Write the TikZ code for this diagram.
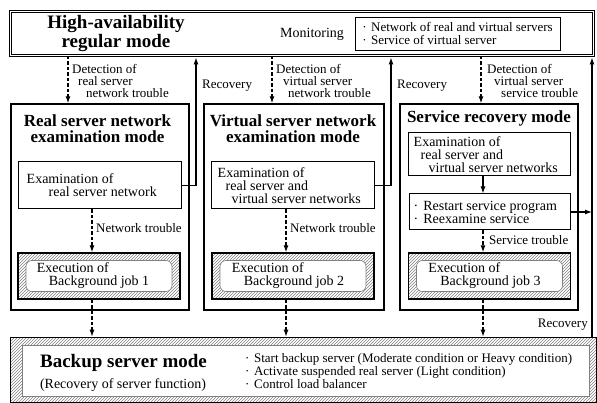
\documentclass[tikz,border=0pt]{standalone}
\usepackage{fontspec}
\setmainfont{Liberation Serif}
\usetikzlibrary{positioning,arrows.meta,patterns}

\newcommand{\bigtxt}{\fontsize{19}{19}\selectfont\bfseries}
\newcommand{\headtxt}{\fontsize{17}{16}\selectfont\bfseries}
\newcommand{\bodytxt}{\fontsize{14}{13}\selectfont}
\newcommand{\smalltxt}{\fontsize{13}{12}\selectfont}
\newcommand{\listtxt}{\fontsize{13}{13.2}\selectfont}
\newcommand{\bul}{\textperiodcentered\hspace{0.35em}}

\begin{document}
\begin{tikzpicture}[x=1pt,y=-1pt,
		modebox/.style={draw, line width=1.4pt, minimum height=206pt, inner sep=0pt},
		modetitle/.style={font=\headtxt, align=center, inner sep=0pt},
		exambox/.style={draw, line width=1pt, minimum width=163pt, inner sep=0pt},
		boxtext/.style={inner sep=0pt, align=left, font=\bodytxt},
		jobbox/.style={draw, line width=1.2pt, pattern=north east lines, pattern color=gray, minimum width=162pt, minimum height=46pt},
		jobframe/.style={draw=gray, line width=0.6pt, fill=white, rounded corners=6pt, minimum width=146pt, minimum height=31pt},
		lbl/.style={inner sep=0pt, font=\smalltxt, align=left},
		solidarrow/.style={line width=1.2pt, -{Latex[length=7pt,width=5pt]}},
		dasharrow/.style={solidarrow, dash pattern=on 3.5pt off 2pt}]
	\useasboundingbox (0,0) rectangle (597,403);

	% high-availability mode
	\node[draw, double, double distance=1.5pt, line width=0.9pt, minimum width=583pt, minimum height=44pt] (regular) at (302,33.5) {};
	\node[font=\bigtxt, align=center, anchor=north, inner sep=0pt] (regtitle) at (116,15) {High-availability\\regular mode};
	\node[font=\bodytxt, anchor=base west, inner sep=0pt] (monlabel) at (280,38) {Monitoring};
	\node[draw, line width=0.6pt, minimum width=205pt, minimum height=33pt, align=left, inner xsep=6pt, font=\listtxt] (monitor) at (457.5,33.5) {\bul Network of real and virtual servers\\\bul Service of virtual server};

	% examination modes
	\node[modebox, minimum width=178pt] (rsmode) at (100,207) {};
	\node[modebox, minimum width=180pt] (vsmode) at (294,207) {};
	\node[modebox, minimum width=178pt] (srmode) at (489,207) {};
	\node[modetitle, below=11.5pt of rsmode.north, xshift=-2.5pt] (rstitle) {Real server network\\examination mode};
	\node[modetitle, below=11.5pt of vsmode.north, xshift=-1pt] (vstitle) {Virtual server network\\examination mode};
	\node[modetitle, below=7.5pt of srmode.north] (srtitle) {Service recovery mode};

	\node[exambox, minimum height=47pt] (ex1) at (99.5,185.5) {};
	\node[boxtext, right=9pt of ex1.west] (ex1txt) {Examination of\\\hspace*{22pt}real server network};
	\node[exambox, minimum height=47pt] (ex2) at (292.5,185.5) {};
	\node[boxtext, right=7pt of ex2.west] (ex2txt) {Examination of\\\hspace*{8pt}real server and\\\hspace*{14pt}virtual server networks};
	\node[exambox, minimum width=162pt, minimum height=43pt] (ex3) at (489,154.5) {};
	\node[boxtext, right=6pt of ex3.west] (ex3txt) {Examination of\\\hspace*{7pt}real server and\\\hspace*{15pt}virtual server networks};
	\node[exambox, minimum width=161pt, minimum height=36pt] (restart) at (489.5,212) {};
	\node[boxtext, right=5pt of restart.west] (restarttxt) {\bul Restart service program\\\bul Reexamine service};

	% background jobs
	\node[jobbox] (bg1) at (99,276) {};
	\node[jobframe] (job1) at (bg1) {};
	\node[boxtext, right=11pt of job1.west] (job1txt) {Execution of\\\hspace*{12pt}Background job 1};
	\node[jobbox] (bg2) at (293,276) {};
	\node[jobframe] (job2) at (bg2) {};
	\node[boxtext, right=12pt of job2.west] (job2txt) {Execution of\\\hspace*{12pt}Background job 2};
	\node[jobbox] (bg3) at (489.5,276) {};
	\node[jobframe] (job3) at (bg3) {};
	\node[boxtext, right=12pt of job3.west] (job3txt) {Execution of\\\hspace*{12pt}Background job 3};

	% backup server mode
	\node[draw, line width=0.6pt, pattern=north east lines, pattern color=gray, minimum width=586pt, minimum height=65pt] (backup) at (303,369.5) {};
	\node[draw=gray, fill=white, line width=0.5pt, minimum width=567pt, minimum height=51pt] (backupin) at (305.5,370.5) {};
	\node[font=\bigtxt, anchor=base, inner sep=0pt] (bktitle) at (123.5,367) {Backup server mode};
	\node[font=\bodytxt, anchor=base, inner sep=0pt] (bksub) at (123,388) {(Recovery of server function)};
	\node[lbl, font=\listtxt, anchor=north west] (bklist) at (245,353) {\bul Start backup server (Moderate condition or Heavy condition)\\\bul Activate suspended real server (Light condition)\\\bul Control load balancer};

	% labels
	\node[lbl, anchor=north west] (det1lbl) at (72,64) {Detection of\\\hspace*{6pt}real server\\\hspace*{14pt}network trouble};
	\node[lbl, anchor=north west] (det2lbl) at (276,64) {Detection of\\\hspace*{7pt}virtual server\\\hspace*{12pt}network trouble};
	\node[lbl, anchor=north west] (det3lbl) at (487,64) {Detection of\\\hspace*{7pt}virtual server\\\hspace*{14pt}service trouble};
	\node[lbl, anchor=base west] (rec1lbl) at (202,89) {Recovery};
	\node[lbl, anchor=base west] (rec2lbl) at (397,89) {Recovery};
	\node[lbl, anchor=base east] (rec3lbl) at (588,327) {Recovery};
	\node[lbl, anchor=base west] (nt1lbl) at (96,233) {Network trouble};
	\node[lbl, anchor=base west] (nt2lbl) at (290,233) {Network trouble};
	\node[lbl, anchor=base west] (stlbl) at (489,245) {Service trouble};

	\coordinate (d1) at (68,0);
	\coordinate (d2) at (272,0);
	\coordinate (d3) at (481,0);
	\coordinate (c1) at (92,0);
	\coordinate (c2) at (286,0);
	\coordinate (c3) at (483,0);
	\coordinate (r1) at (196,0);
	\coordinate (r2) at (391,0);
	\coordinate (r3) at (592,0);

	% connectors
	\draw[dasharrow] (regular.south -| d1) -- (rsmode.north -| d1);
	\draw[dasharrow] (regular.south -| d2) -- (vsmode.north -| d2);
	\draw[dasharrow] (regular.south -| d3) -- (srmode.north -| d3);
	\draw[solidarrow, shorten >=1.5pt] (ex1.east) -| (regular.south -| r1);
	\draw[solidarrow, shorten >=1.5pt] (ex2.east) -| (regular.south -| r2);
	\draw[solidarrow, shorten >=1.5pt] (backup.north -| r3) -- (regular.south -| r3);
	\draw[solidarrow] (restart.east) -- (restart.east -| r3);
	\draw[dasharrow] (ex1.south -| c1) -- (bg1.north -| c1);
	\draw[dasharrow] (ex2.south -| c2) -- (bg2.north -| c2);
	\draw[solidarrow] (ex3.south -| c3) -- (restart.north -| c3);
	\draw[dasharrow] (restart.south -| c3) -- (bg3.north -| c3);
	\draw[dasharrow] (bg1.south -| c1) -- (backup.north -| c1);
	\draw[dasharrow] (bg2.south -| c2) -- (backup.north -| c2);
	\draw[dasharrow] (bg3.south -| c3) -- (backup.north -| c3);

\end{tikzpicture}
\end{document}
